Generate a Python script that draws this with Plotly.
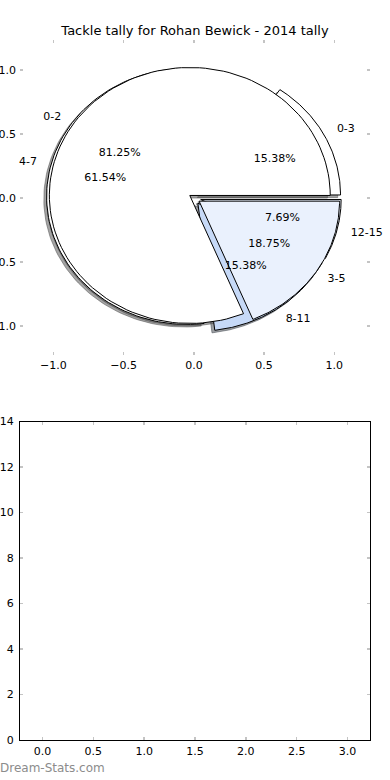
import numpy as np
import plotly.graph_objects as go

# ---------------- data ----------------
title_text = "Tackle tally for Rohan Bewick - 2014 tally"

# first pie (drawn underneath)
labels_a = ["0-3", "4-7", "8-11", "12-15"]
values_a = [2, 8, 2, 1]
explode_a = [0.05, 0.05, 0.05, 0.05]
colors_a = ["#ffffff", "#ffffff", "#c6d9f7", "#eaf1fd"]

# second pie (drawn on top)
labels_b = ["0-2", "3-5"]
values_b = [13, 3]
explode_b = [0.035, 0.045]
colors_b = ["#ffffff", "#eaf1fd"]

top_ticks = [-1.0, -0.5, 0.0, 0.5, 1.0]
bottom_x_ticks = [0.0, 0.5, 1.0, 1.5, 2.0, 2.5, 3.0]
bottom_y_ticks = [0, 2, 4, 6, 8, 10, 12, 14]
watermark = "Dream-Stats.com"

# ---------------- helpers ----------------
W, H = 390, 780
FONT = "DejaVu Sans"
SHADOW_OFF = (-0.02, -0.02)


def hex_rgb(h):
    h = h.lstrip("#")
    return tuple(int(h[i:i + 2], 16) for i in (0, 2, 4))


def fmt_tick(v, nd=1):
    s = f"{abs(v):.{nd}f}"
    return ("\u2212" + s) if v < 0 else s


def wedges(values, explode):
    total = float(sum(values))
    out = []
    start = 0.0
    for v, e in zip(values, explode):
        end = start + 360.0 * v / total
        mid = np.radians((start + end) / 2)
        cx, cy = e * np.cos(mid), e * np.sin(mid)
        t = np.radians(np.linspace(start, end, 120))
        xs = np.concatenate([[cx], cx + np.cos(t), [cx]])
        ys = np.concatenate([[cy], cy + np.sin(t), [cy]])
        out.append(dict(xs=xs, ys=ys, cx=cx, cy=cy, mid=mid, pct=100.0 * v / total))
        start = end
    return out


geo_a = wedges(values_a, explode_a)
geo_b = wedges(values_b, explode_b)

fig = go.Figure()

# shadows (beneath every wedge)
for geo, cols in ((geo_a, colors_a), (geo_b, colors_b)):
    for g, c in zip(geo, cols):
        r, gg, b = hex_rgb(c)
        sc = f"rgba({int(r*0.3)},{int(gg*0.3)},{int(b*0.3)},0.5)"
        fig.add_trace(go.Scatter(
            x=g["xs"] + SHADOW_OFF[0], y=g["ys"] + SHADOW_OFF[1],
            mode="lines", fill="toself", fillcolor=sc,
            line=dict(color=sc, width=1), hoverinfo="skip", showlegend=False,
            xaxis="x", yaxis="y"))

# wedges
for geo, cols in ((geo_a, colors_a), (geo_b, colors_b)):
    for g, c in zip(geo, cols):
        fig.add_trace(go.Scatter(
            x=g["xs"], y=g["ys"], mode="lines", fill="toself", fillcolor=c,
            line=dict(color="black", width=1), hoverinfo="skip", showlegend=False,
            xaxis="x", yaxis="y"))

# texts (labels at 1.1 radius, percentages at 0.6 radius)
for geo, labs in ((geo_a, labels_a), (geo_b, labels_b)):
    for g, lab in zip(geo, labs):
        lx = g["cx"] + 1.1 * np.cos(g["mid"])
        ly = g["cy"] + 1.1 * np.sin(g["mid"])
        fig.add_trace(go.Scatter(
            x=[lx], y=[ly], mode="text", text=[lab], cliponaxis=False,
            textposition="middle right" if lx > 0 else "middle left",
            textfont=dict(family=FONT, size=11, color="black"),
            hoverinfo="skip", showlegend=False, xaxis="x", yaxis="y"))
        px = g["cx"] + 0.6 * np.cos(g["mid"])
        py = g["cy"] + 0.6 * np.sin(g["mid"])
        fig.add_trace(go.Scatter(
            x=[px], y=[py], mode="text", text=[f"{g['pct']:.2f}%"], cliponaxis=False,
            textposition="middle center",
            textfont=dict(family=FONT, size=11, color="black"),
            hoverinfo="skip", showlegend=False, xaxis="x", yaxis="y"))

# empty lower axes
fig.add_trace(go.Scatter(x=[], y=[], mode="markers", showlegend=False,
                         xaxis="x2", yaxis="y2"))

xdom = [20 / W, 370 / W]
tick_common = dict(ticks="inside", ticklen=3, tickwidth=1.5, tickcolor="#c4c4c4",
                   showgrid=False, zeroline=False, automargin=False,
                   tickfont=dict(family=FONT, size=11, color="black"))

fig.update_layout(
    width=W, height=H, autosize=False,
    margin=dict(l=0, r=0, t=0, b=0),
    paper_bgcolor="white", plot_bgcolor="white",
    title=dict(text=title_text, x=0.5, xanchor="center",
               y=1 - 30 / H, yanchor="middle",
               font=dict(family=FONT, size=13, color="black")),
    xaxis=dict(domain=xdom, anchor="y", range=[-1.238, 1.254],
               tickvals=top_ticks, ticktext=[fmt_tick(v) for v in top_ticks],
               showline=False, mirror="ticks", ticklabelstandoff=2, **tick_common),
    yaxis=dict(domain=[1 - 355 / H, 1 - 40 / H], anchor="x", range=[-1.227, 1.234],
               tickvals=top_ticks, ticktext=[fmt_tick(v) for v in top_ticks],
               showline=False, mirror="ticks", ticklabelstandoff=3, **tick_common),
    xaxis2=dict(domain=xdom, anchor="y2", range=[-0.222, 3.222],
                tickvals=bottom_x_ticks, ticktext=[fmt_tick(v) for v in bottom_x_ticks],
                showline=True, linecolor="black", linewidth=1, mirror="ticks",
                ticklabelstandoff=1, **tick_common),
    yaxis2=dict(domain=[1 - 740 / H, 1 - 421.5 / H], anchor="x2", range=[0, 14],
                tickvals=bottom_y_ticks, ticktext=[str(v) for v in bottom_y_ticks],
                showline=True, linecolor="black", linewidth=1, mirror="ticks",
                ticklabelstandoff=3, **tick_common),
    annotations=[dict(text=watermark, xref="paper", yref="paper",
                      x=-2 / W, y=1 - 768 / H, xanchor="left", yanchor="middle",
                      showarrow=False,
                      font=dict(family=FONT, size=12, color="#8c8c8c"))],
)

fig.write_html("out.html",
               config={"displayModeBar": False, "staticPlot": True},
               post_script="document.body.style.margin='0px';"
                           "document.body.style.overflow='hidden';")
